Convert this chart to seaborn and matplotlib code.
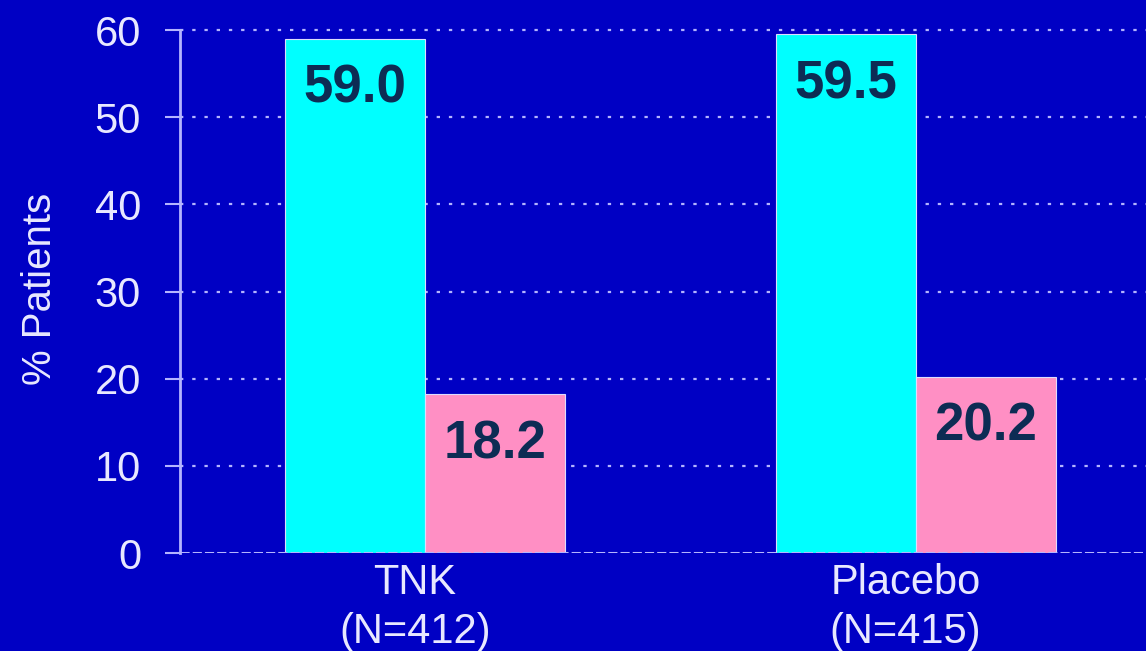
import matplotlib
matplotlib.use("Agg")
import matplotlib.pyplot as plt
import matplotlib.transforms as mtransforms
import seaborn as sns
import pandas as pd

# Data
groups = ["TNK\n(N=412)", "Placebo\n(N=415)"]
measures = ["Measure 1", "Measure 2"]
measure1_pct = [59.0, 59.5]
measure2_pct = [18.2, 20.2]
y_ticks = [0, 10, 20, 30, 40, 50, 60]

df = pd.DataFrame({
    "group": groups * 2,
    "measure": [measures[0]] * len(groups) + [measures[1]] * len(groups),
    "pct": measure1_pct + measure2_pct,
})

BG = "#0000C4"
CYAN = "#00FFFF"
PINK = "#FF8FC4"
LINE = "#B4B4FF"
TEXT = "#E8E8FF"
LABEL = "#0D2C54"

sns.set_theme(style="white")
plt.rcParams["font.family"] = ["Liberation Sans", "DejaVu Sans"]

fig = plt.figure(figsize=(11.46, 6.51), dpi=100, facecolor=BG)
ax = fig.add_axes([0.157, 0.1505, 0.843, 0.810])
ax.set_facecolor(BG)

sns.barplot(data=df, x="group", y="pct", hue="measure", order=groups,
            hue_order=measures, palette=[CYAN, PINK], saturation=1,
            width=0.571, gap=0, legend=False, ax=ax, zorder=3,
            edgecolor="#DCDCFF", linewidth=0.8)

ax.set_xlim(-0.5, 1.47)
ax.set_ylim(0, 60.5)
ax.set_yticks(y_ticks)

# dotted horizontal grid behind the bars
for t in y_ticks[1:]:
    ax.axhline(t, color=LINE, linestyle=(0, (1.5, 4)), linewidth=1.6, zorder=1)
ax.axhline(0, color=LINE, linestyle=(0, (3, 1)), linewidth=2.2, zorder=4)

for side in ["top", "right", "bottom"]:
    ax.spines[side].set_visible(False)
ax.spines["left"].set_color(LINE)
ax.spines["left"].set_linewidth(2)
ax.spines["left"].set_bounds(0, 60)

ax.tick_params(axis="y", colors=LINE, labelcolor=TEXT, labelsize=30,
               length=11, width=1.5, pad=17, left=True)
ax.tick_params(axis="x", labelcolor=TEXT, labelsize=30, length=0, pad=7)
shift = mtransforms.ScaledTranslation(-10 / 100, 0, fig.dpi_scale_trans)
for lab in ax.get_xticklabels():
    lab.set_linespacing(1.3)
    lab.set_transform(lab.get_transform() + shift)

ax.set_xlabel("")
ax.set_ylabel("% Patients", color=TEXT, fontsize=29)
ax.yaxis.set_label_coords(-0.125, 0.50)

# value labels inside the top of each bar
for container in ax.containers:
    for bar in container:
        h = bar.get_height()
        ax.annotate(f"{h:.1f}", xy=(bar.get_x() + bar.get_width() / 2, h),
                    xytext=(0, -36), textcoords="offset points",
                    ha="center", va="center", fontsize=38, fontweight="bold",
                    color=LABEL, zorder=5)

fig.savefig("out.png", dpi=100, facecolor=BG)
